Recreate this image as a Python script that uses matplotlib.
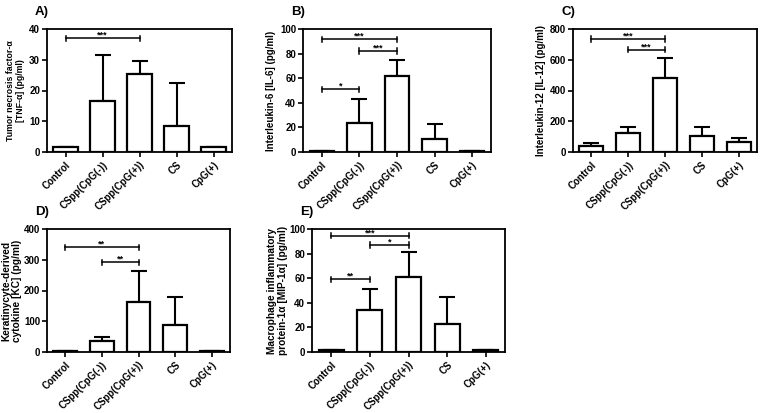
import numpy as np
import matplotlib.pyplot as plt

plt.rcParams['font.family'] = ['Liberation Sans', 'DejaVu Sans']
plt.rcParams['font.weight'] = 'bold'

groups = ['Control', 'CSpp(CpG(-))', 'CSpp(CpG(+))', 'CS', 'CpG(+)']

# means and upper errors (SD) per panel
tnf_mean = [1.5, 16.5, 25.5, 8.5, 1.5]
tnf_err = [0, 15.0, 4.0, 13.8, 0]
il6_mean = [1.0, 23.5, 62.0, 10.5, 1.0]
il6_err = [0, 19.5, 13.0, 12.0, 0]
il12_mean = [40, 125, 480, 105, 62]
il12_err = [18, 38, 130, 58, 30]
kc_mean = [4, 35, 162, 87, 4]
kc_err = [0, 15, 103, 91, 0]
mip_mean = [1.5, 34.0, 61.0, 23.0, 1.5]
mip_err = [0, 17.5, 20.0, 22.0, 0]

# significance brackets: (start group, end group, height, label)
tnf_sig = [(0, 2, 37, '***')]
il6_sig = [(0, 2, 91.5, '***'), (1, 2, 82, '***'), (0, 1, 51, '*')]
il12_sig = [(0, 2, 735, '***'), (1, 2, 665, '***')]
kc_sig = [(0, 2, 340, '**'), (1, 2, 292, '**')]
mip_sig = [(0, 2, 94.5, '***'), (1, 2, 87, '*'), (0, 1, 59, '**')]

panels = [
    ('A)', [47, 29, 232, 152], tnf_mean, tnf_err, tnf_sig, 40, 10,
     'Tumor necrosis factor-α\n[TNF-α] (pg/ml)', 6.3, 3),
    ('B)', [303, 29, 491, 152], il6_mean, il6_err, il6_sig, 100, 20,
     'Interleukin-6 [IL-6] (pg/ml)', 7, 3),
    ('C)', [573, 29, 757, 152], il12_mean, il12_err, il12_sig, 800, 200,
     'Interleukin-12 [IL-12] (pg/ml)', 7, 3),
    ('D)', [47, 229, 230, 352], kc_mean, kc_err, kc_sig, 400, 100,
     'Keratinycyte-derived\ncytokine [KC] (pg/ml)', 7.3, 1),
    ('E)', [312, 229, 505, 352], mip_mean, mip_err, mip_sig, 100, 20,
     'Macrophage inflammatory\nprotein-1α [MIP-1α] (pg/ml)', 7.3, 1),
]

W, H = 763, 413
fig = plt.figure(figsize=(W / 100, H / 100), dpi=100)

for label, (x0, y0, x1, y1), mean, err, sig, ymax, ystep, ylab, yfs, lpad in panels:
    ax = fig.add_axes([x0 / W, 1 - y1 / H, (x1 - x0) / W, (y1 - y0) / H])
    x = np.arange(len(groups))
    ax.errorbar(x, mean, yerr=[np.zeros(len(err)), err], fmt='none',
                ecolor='black', elinewidth=1.5, capsize=5.5, capthick=1.5, zorder=1)
    ax.bar(x, mean, width=0.65, color='white', edgecolor='black', linewidth=1.6, zorder=2)
    for a, b, h, s in sig:
        ax.plot([a, b], [h, h], color='black', lw=1.1)
        d = ymax * 0.022
        ax.plot([a, a], [h - d, h + d], color='black', lw=1.1)
        ax.plot([b, b], [h - d, h + d], color='black', lw=1.1)
        ax.annotate(s, ((a + b) / 2, h), xytext=(0, 0.3), textcoords='offset points',
                    ha='center', va='baseline', fontsize=6.5, fontweight='bold')
    ax.set_xlim(-0.5, 4.5)
    ax.set_ylim(0, ymax)
    ax.set_yticks(np.arange(0, ymax + ystep / 2, ystep))
    ax.set_xticks(x)
    ax.set_xticklabels(groups, rotation=45, ha='right', rotation_mode='anchor',
                       fontsize=7, fontweight='bold')
    ax.tick_params(axis='y', labelsize=7, width=1.2, length=3.5, pad=1.5)
    ax.tick_params(axis='x', width=1.2, length=3.5, pad=2)
    for t in ax.get_yticklabels():
        t.set_fontweight('bold')
    for sp in ax.spines.values():
        sp.set_linewidth(1.3)
    ax.set_ylabel(ylab, fontsize=yfs, fontweight='bold', labelpad=lpad, linespacing=1.1)
    fig.text((x0 - 12) / W, 1 - (y0 - 17) / H, label, fontsize=9.5,
             fontweight='bold', ha='left', va='center')

fig.savefig('out.png', dpi=100)
